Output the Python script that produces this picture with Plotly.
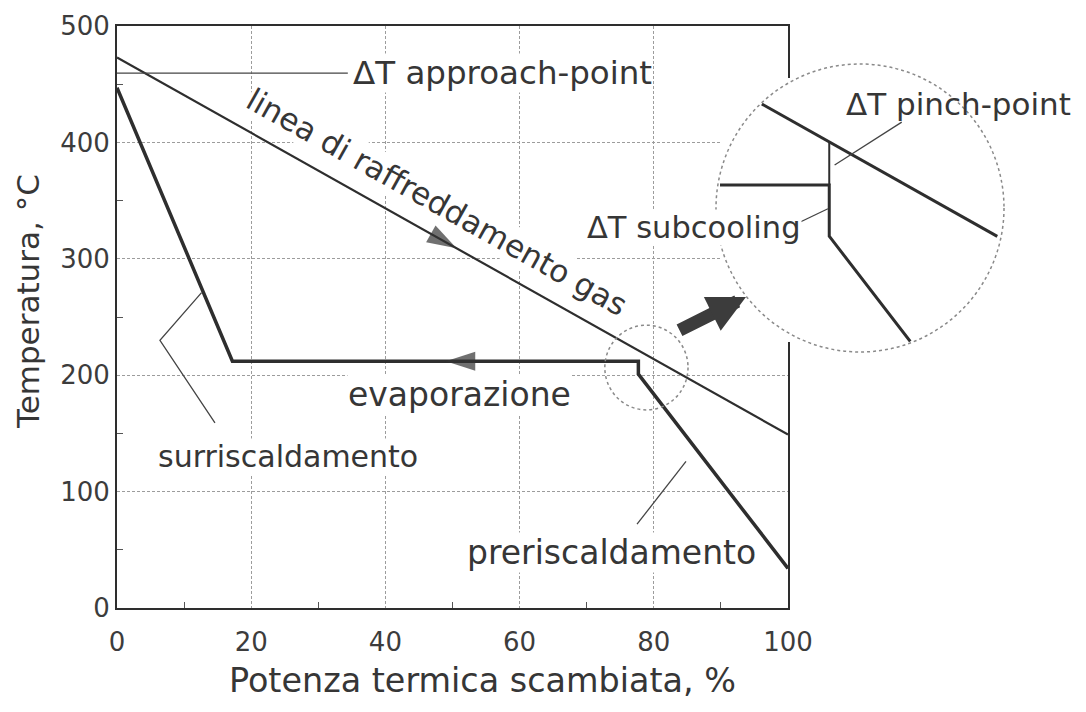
import numpy as np
import plotly.graph_objects as go

# ---------------- data ----------------
gas_x = [0, 100]
gas_T = [473, 149]

steam_x = [0, 17.2, 77.7, 77.7, 100]
steam_T = [447, 212, 212, 201, 34]

x_ticks = [0, 20, 40, 60, 80, 100]
y_ticks = [0, 100, 200, 300, 400, 500]
x_minor = [10, 30, 50, 70, 90]
y_minor = [50, 150, 250, 350, 450]

# leader lines for the labels (data units)
lead_approach_x = [0, 34.4]
lead_approach_T = [459.5, 459.5]
lead_surr_x = [12.6, 6.4, 14.6]
lead_surr_T = [271, 230, 159]
lead_preh_x = [84.8, 77.5]
lead_preh_T = [126, 72]
lead_pinch_x = [80.4, 77.9]
lead_pinch_T = [225.5, 216.3]
lead_sub_x = [76.6, 77.65]
lead_sub_T = [204.0, 206.9]

# flow-direction arrows (x positions along the curves: from -> tip)
arrow_gas_x = [45, 50.6]
arrow_evap_x = [55, 49]

labels = {
    "approach": "ΔT approach-point",
    "gas": "linea di raffreddamento gas",
    "evap": "evaporazione",
    "surr": "surriscaldamento",
    "preh": "preriscaldamento",
    "sub": "ΔT subcooling",
    "pinch": "ΔT pinch-point",
    "xtitle": "Potenza termica scambiata, %",
    "ytitle": "Temperatura, °C",
}

# ---------------- geometry ----------------
# the page has an 8px body margin, so the figure is 16px smaller than the window
OFF = 8
W, H = 1086 - 2 * OFF, 712 - 2 * OFF
REF_L, REF_B = 117, 608          # plot-area left / bottom in window pixels
ML, MT = REF_L - OFF, 26 - OFF
PW, PH = 909, 582
MR, MB = W - ML - PW, H - MT - PH
main_dom_x = [0, 671 / PW]


def px2paper_x(px):
    return (px - REF_L) / PW


def px2paper_y(py):
    return (REF_B - py) / PH


# zoomed inset (magnifier)
ins_dom_x = [px2paper_x(720), px2paper_x(1004)]
ins_dom_y = [px2paper_y(342), px2paper_y(78)]
ins_rng_x = [73.63, 84.21]
ins_rng_y = [178.28, 234.98]
circ_c = (860, 208)   # window-pixel centre of the magnifier
circ_r = 144          # pixel radius

# small circle around the pinch point (data units)
small_circ = dict(x0=72.7, x1=85.1, y0=170.2, y1=243.0)

DARK = "#2e2e2e"
TXT = "#363636"
FONT = "DejaVu Sans"


def densify(xs, ys, n=400):
    X, Y = [], []
    for i in range(len(xs) - 1):
        t = np.linspace(0, 1, n)
        X.extend(xs[i] + (xs[i + 1] - xs[i]) * t)
        Y.extend(ys[i] + (ys[i + 1] - ys[i]) * t)
    return np.array(X), np.array(Y)


def clip_to_circle(xs, ys):
    X, Y = densify(xs, ys)
    fx = ins_dom_x[0] + (X - ins_rng_x[0]) / (ins_rng_x[1] - ins_rng_x[0]) * (ins_dom_x[1] - ins_dom_x[0])
    fy = ins_dom_y[0] + (Y - ins_rng_y[0]) / (ins_rng_y[1] - ins_rng_y[0]) * (ins_dom_y[1] - ins_dom_y[0])
    px = REF_L + fx * PW
    py = REF_B - fy * PH
    inside = (px - circ_c[0]) ** 2 + (py - circ_c[1]) ** 2 <= circ_r ** 2
    Xo = [float(a) if k else None for a, k in zip(X, inside)]
    Yo = [float(b) if k else None for b, k in zip(Y, inside)]
    return Xo, Yo


fig = go.Figure()

# ---------------- main chart ----------------
fig.add_trace(go.Scatter(x=gas_x, y=gas_T, mode="lines",
                         line=dict(color=DARK, width=2.2), hoverinfo="skip"))
fig.add_trace(go.Scatter(x=steam_x, y=steam_T, mode="lines",
                         line=dict(color=DARK, width=3.5), hoverinfo="skip"))

for lx, ly in [(lead_approach_x, lead_approach_T), (lead_surr_x, lead_surr_T),
               (lead_preh_x, lead_preh_T)]:
    fig.add_trace(go.Scatter(x=lx, y=ly, mode="lines",
                             line=dict(color="#444", width=1.3), hoverinfo="skip"))

# direction arrows
ag_T = list(np.interp(arrow_gas_x, gas_x, gas_T))
ae_T = [steam_T[1]] * len(arrow_evap_x)
for ax_, ay_ in [(arrow_gas_x, ag_T), (arrow_evap_x, ae_T)]:
    fig.add_trace(go.Scatter(x=ax_, y=ay_, mode="markers",
                             marker=dict(symbol="arrow", size=[0, 31], angleref="previous",
                                         color="#333", line=dict(width=0)),
                             hoverinfo="skip"))

# ---------------- magnified inset ----------------
gx, gy = clip_to_circle(gas_x, gas_T)
sx, sy = clip_to_circle(steam_x, steam_T)
x_p = steam_x[2]
pinch_x = [x_p, x_p]
pinch_T = [float(np.interp(x_p, gas_x, gas_T)), steam_T[2]]
fig.add_trace(go.Scatter(x=gx, y=gy, mode="lines", xaxis="x2", yaxis="y2",
                         line=dict(color=DARK, width=3), hoverinfo="skip"))
fig.add_trace(go.Scatter(x=sx, y=sy, mode="lines", xaxis="x2", yaxis="y2",
                         line=dict(color=DARK, width=3), hoverinfo="skip"))
fig.add_trace(go.Scatter(x=pinch_x, y=pinch_T, mode="lines", xaxis="x2", yaxis="y2",
                         line=dict(color=DARK, width=2), hoverinfo="skip"))
for lx, ly in [(lead_pinch_x, lead_pinch_T), (lead_sub_x, lead_sub_T)]:
    fig.add_trace(go.Scatter(x=lx, y=ly, mode="lines", xaxis="x2", yaxis="y2",
                             line=dict(color="#444", width=1.3), hoverinfo="skip"))

# ---------------- axes ----------------
axis_common = dict(showgrid=True, gridcolor="#9c9c9c", griddash="3px,2px", gridwidth=1,
                   showline=True, linecolor=DARK, linewidth=2, mirror=True,
                   ticks="", zeroline=False,
                   tickfont=dict(family=FONT, size=26, color="#3c3c3c"))
fig.update_layout(
    xaxis=dict(domain=main_dom_x, range=[0, 100], tickvals=x_ticks,
               ticktext=[str(v) for v in x_ticks], ticklabelstandoff=10,
               minor=dict(tickvals=x_minor, ticks="inside", ticklen=6, tickcolor="#555",
                          showgrid=False),
               anchor="y", **axis_common),
    yaxis=dict(domain=[0, 1], range=[0, 500], tickvals=y_ticks,
               ticktext=[str(v) for v in y_ticks],
               minor=dict(tickvals=y_minor, ticks="inside", ticklen=6, tickcolor="#555",
                          showgrid=False),
               anchor="x", **axis_common),
    xaxis2=dict(domain=ins_dom_x, range=ins_rng_x, visible=False, anchor="y2",
                showgrid=False, zeroline=False),
    yaxis2=dict(domain=ins_dom_y, range=ins_rng_y, visible=False, anchor="x2",
                showgrid=False, zeroline=False),
    width=W, height=H,
    margin=dict(l=ML, r=MR, t=MT, b=MB, autoexpand=False),
    paper_bgcolor="white", plot_bgcolor="white",
    showlegend=False,
    font=dict(family=FONT, color=TXT),
)

# ---------------- shapes ----------------
fig.add_shape(type="circle", xref="paper", yref="paper",
              x0=px2paper_x(circ_c[0] - circ_r), x1=px2paper_x(circ_c[0] + circ_r),
              y0=px2paper_y(circ_c[1] + circ_r), y1=px2paper_y(circ_c[1] - circ_r),
              line=dict(color="#8a8a8a", width=1.5, dash="dot"), layer="above")
fig.add_shape(type="circle", xref="x", yref="y", **small_circ,
              line=dict(color="#8a8a8a", width=1.5, dash="dot"), layer="above")

# ---------------- annotations ----------------
def F(size):
    return dict(family=FONT, size=size, color=TXT)


ann = [
    dict(x=35.0, y=459.6, xref="x", yref="y", text=labels["approach"], xanchor="left",
         bgcolor="white", font=F(32.5)),
    dict(x=47.7, y=349, xref="x", yref="y", text=labels["gas"], textangle=29.3,
         bgcolor="white", font=F(31)),
    dict(x=51.0, y=183, xref="x", yref="y", text=labels["evap"], bgcolor="white", font=F(33)),
    dict(x=25.5, y=130, xref="x", yref="y", text=labels["surr"], bgcolor="white", font=F(30)),
    dict(x=73.7, y=47.5, xref="x", yref="y", text=labels["preh"], bgcolor="white", font=F(33)),
    dict(x=px2paper_x(694), y=px2paper_y(227), xref="paper", yref="paper",
         text=labels["sub"], bgcolor="white", font=F(30.5)),
    dict(x=px2paper_x(958), y=px2paper_y(104), xref="paper", yref="paper",
         text=labels["pinch"], font=F(31)),
    dict(x=px2paper_x(482), y=px2paper_y(680), xref="paper", yref="paper",
         text=labels["xtitle"], font=F(33.4)),
    dict(x=px2paper_x(28), y=px2paper_y(302), xref="paper", yref="paper",
         text=labels["ytitle"], textangle=-90, font=F(31)),
]
for a in ann:
    a.setdefault("xanchor", "center")
    a.update(showarrow=False, yanchor="middle", borderpad=0)
    fig.add_annotation(**a)

# fat arrow pointing to the magnifier
fig.add_annotation(x=px2paper_x(746), y=px2paper_y(297), xref="paper", yref="paper",
                   ax=-68, ay=34, text="", showarrow=True, arrowhead=2,
                   arrowsize=0.58, arrowwidth=13, arrowcolor="#3c3c3c", standoff=0)

fig.write_html("out.html")
